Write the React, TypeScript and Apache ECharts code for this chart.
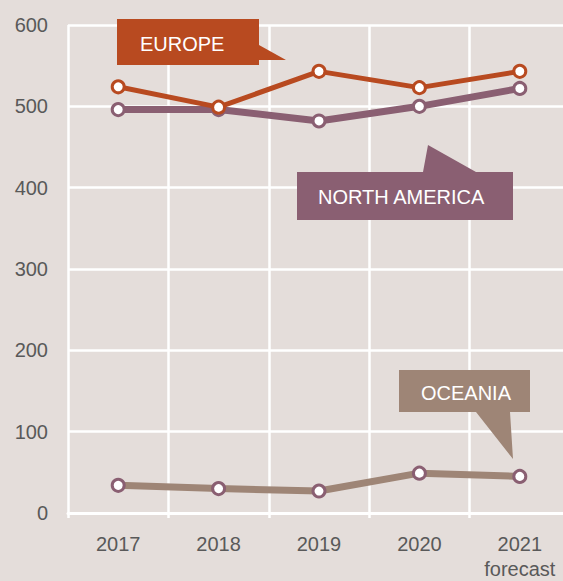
import React, { useEffect, useRef } from "react";
import * as echarts from "echarts";

const years = ["2017", "2018", "2019", "2020", "2021\nforecast"];
const europe = [524, 499, 543, 523, 543];
const northAmerica = [496, 496, 482, 500, 522];
const oceania = [34, 30, 27, 49, 45];
const yTicks = { min: 0, max: 600, interval: 100 };

const FONT = "'Liberation Sans', Arial, sans-serif";
const BG = "#e4ddda";
const C_EU = "#b84a20";
const C_NA = "#8a5f72";
const C_OC = "#9e8576";

export default function App() {
  const ref = useRef<HTMLDivElement>(null);
  useEffect(() => {
    if (!ref.current) return;
    const chart = echarts.init(ref.current, undefined, { renderer: "svg" });
    const lineSeries = (name: string, data: number[], color: string, width: number, border: string) => ({
      name,
      type: "line",
      data,
      symbol: "circle",
      symbolSize: 12,
      showSymbol: true,
      lineStyle: { color, width },
      itemStyle: { color: "#ffffff", borderColor: border, borderWidth: 3 },
      emphasis: { disabled: true },
    });
    chart.setOption({
      animation: false,
      backgroundColor: BG,
      grid: { left: 68, right: 0, top: 25, bottom: 65 },
      xAxis: {
        type: "category",
        data: years,
        boundaryGap: true,
        axisLine: { show: true, lineStyle: { color: "#ffffff", width: 3 } },
        axisTick: { show: true, interval: 0, length: 5, lineStyle: { color: "#ffffff", width: 2.5 } },
        splitLine: { show: true, interval: 0, lineStyle: { color: "#ffffff", width: 2.5 } },
        axisLabel: {
          interval: 0,
          color: "#595959",
          fontFamily: FONT,
          fontSize: 20,
          margin: 18,
          lineHeight: 25,
        },
      },
      yAxis: {
        type: "value",
        min: yTicks.min,
        max: yTicks.max,
        interval: yTicks.interval,
        axisLine: { show: false },
        axisTick: { show: false },
        splitLine: { show: true, lineStyle: { color: "#ffffff", width: 2.5 } },
        axisLabel: { color: "#595959", fontFamily: FONT, fontSize: 20, margin: 20 },
      },
      series: [
        lineSeries("Oceania", oceania, C_OC, 7, C_NA),
        lineSeries("North America", northAmerica, C_NA, 7, C_NA),
        lineSeries("Europe", europe, C_EU, 5, C_EU),
      ],
      graphic: [
        {
          type: "polygon",
          shape: { points: [[117, 19], [259, 19], [259, 45], [286, 60], [259, 60], [259, 65], [117, 65]] },
          style: { fill: C_EU },
          z: 100,
        },
        {
          type: "text",
          x: 140,
          y: 44,
          style: { text: "EUROPE", fill: "#ffffff", font: `20px ${FONT}`, verticalAlign: "middle" },
          z: 101,
        },
        {
          type: "polygon",
          shape: { points: [[297, 172], [423, 172], [428, 145], [476, 172], [513, 172], [513, 220], [297, 220]] },
          style: { fill: C_NA },
          z: 100,
        },
        {
          type: "text",
          x: 318,
          y: 197,
          style: { text: "NORTH AMERICA", fill: "#ffffff", font: `20px ${FONT}`, verticalAlign: "middle" },
          z: 101,
        },
        {
          type: "polygon",
          shape: { points: [[399, 370], [530, 370], [530, 412], [510, 412], [513, 459], [476, 412], [399, 412]] },
          style: { fill: C_OC },
          z: 100,
        },
        {
          type: "text",
          x: 421,
          y: 393,
          style: { text: "OCEANIA", fill: "#ffffff", font: `20px ${FONT}`, verticalAlign: "middle" },
          z: 101,
        },
      ],
    });
    return () => chart.dispose();
  }, []);
  return (
    <div
      style={{
        position: "fixed",
        left: 0,
top: 0,
        width: 563,
        height: 581,
        overflow: "hidden",
        background: BG,
      }}
    >
      <div ref={ref} style={{ width: 570, height: 581 }} />
    </div>
  );
}
